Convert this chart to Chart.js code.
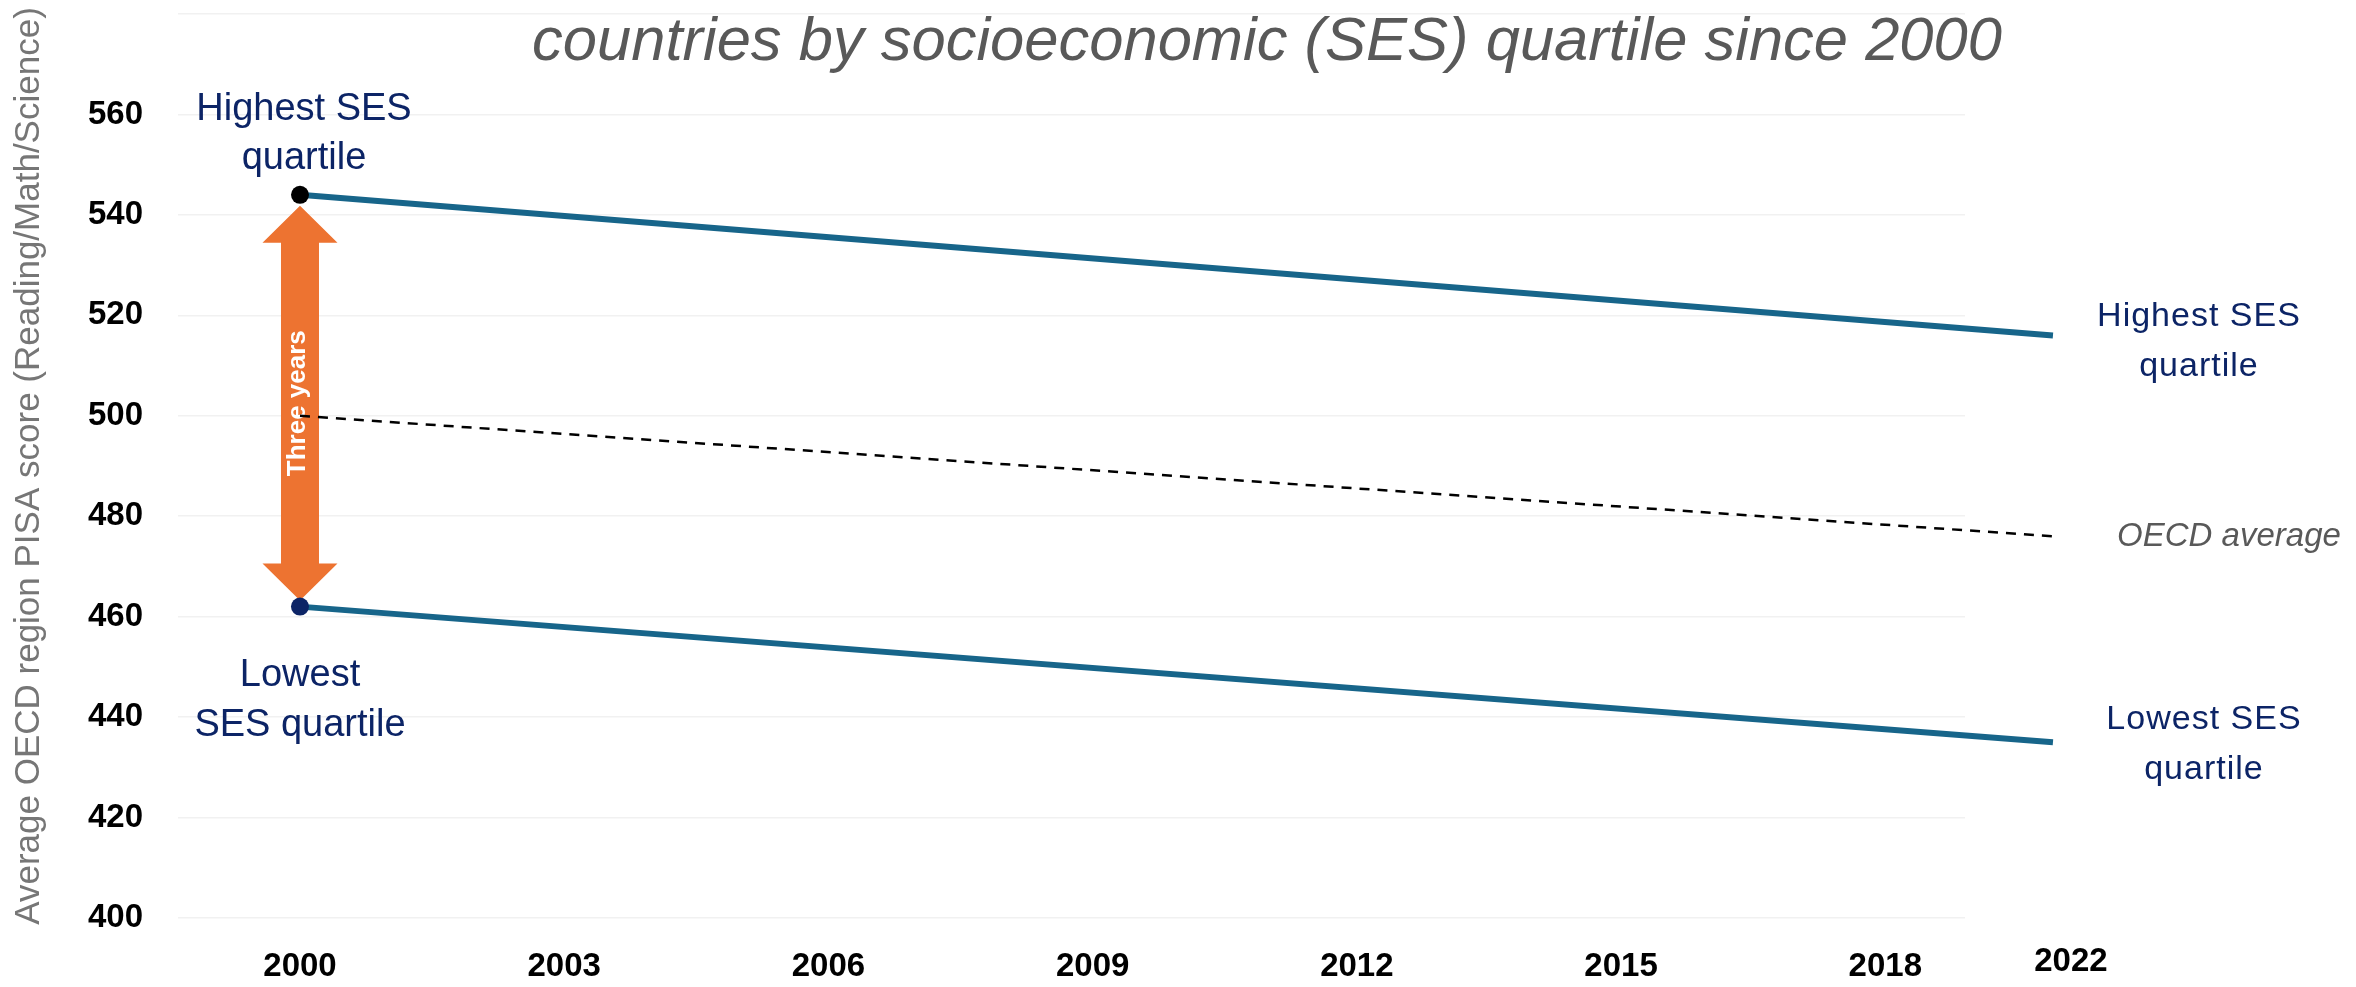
<!DOCTYPE html>
<html>
<head>
<meta charset="utf-8">
<script src="https://cdn.jsdelivr.net/npm/chart.js@4.4.1/dist/chart.umd.min.js"></script>
<style>
  html, body { margin: 0; padding: 0; background: #fff; }
  #wrap { width: 2356px; height: 987px; position: relative; }
</style>
</head>
<body>
<div id="wrap"><canvas id="pisaChart"></canvas></div>
<script>
// data
var years = [2000, 2022];
var highestSES = [544, 516];
var lowestSES = [462, 435];
var oecdAverage = [500, 476];
var tickYears = [2000, 2003, 2006, 2009, 2012, 2015, 2018];
var lastYearLabel = '2022';
var yTickLabels = [400, 420, 440, 460, 480, 500, 520, 540, 560];

var titleText = 'countries by socioeconomic (SES) quartile since 2000';
var yTitle = 'Average OECD region PISA score (Reading/Math/Science)';

var NAVY = '#0c2466';
var LINE = '#17658a';
var ORANGE = '#ed7331';
var GREY = '#595959';
var FONT = '"Liberation Sans", Arial, sans-serif';

Chart.defaults.font.family = FONT;

function pts(vals) {
    return years.map(function (y, i) { return { x: y, y: vals[i] }; });
}

function textLines(ctx, lines, x, y, gap) {
    lines.forEach(function (t, i) { ctx.fillText(t, x, y + i * gap); });
}

var decorations = {
    id: 'decorations',
    beforeDatasetsDraw: function (chart) {
        var ctx = chart.ctx;
        var xs = chart.scales.xLine, ys = chart.scales.y;
        var cx = xs.getPixelForValue(years[0]);
        var top = ys.getPixelForValue(highestSES[0]) + 11;
        var bot = ys.getPixelForValue(lowestSES[0]) - 6;
        var head = 37, hw = 37.5, sw = 19;
        ctx.save();
        ctx.fillStyle = ORANGE;
        ctx.beginPath();
        ctx.moveTo(cx, top);
        ctx.lineTo(cx + hw, top + head);
        ctx.lineTo(cx + sw, top + head);
        ctx.lineTo(cx + sw, bot - head);
        ctx.lineTo(cx + hw, bot - head);
        ctx.lineTo(cx, bot);
        ctx.lineTo(cx - hw, bot - head);
        ctx.lineTo(cx - sw, bot - head);
        ctx.lineTo(cx - sw, top + head);
        ctx.lineTo(cx - hw, top + head);
        ctx.closePath();
        ctx.fill();
        ctx.translate(cx - 2, (top + bot) / 2);
        ctx.rotate(-Math.PI / 2);
        ctx.fillStyle = '#fff';
        ctx.font = 'bold 26px ' + FONT;
        ctx.textAlign = 'center';
        ctx.textBaseline = 'middle';
        ctx.fillText('Three years', 0, 0);
        ctx.restore();
    },
    afterDatasetsDraw: function (chart) {
        var ctx = chart.ctx;
        var xs = chart.scales.xLine, ys = chart.scales.y, xt = chart.scales.x;
        var x0 = xs.getPixelForValue(years[0]);
        var x1 = xs.getPixelForValue(years[1]);
        ctx.save();
        ctx.textAlign = 'center';
        ctx.textBaseline = 'alphabetic';

        // title
        ctx.fillStyle = GREY;
        ctx.font = 'italic 61.5px ' + FONT;
        ctx.fillText(titleText, 1267, 60);

        // left labels
        ctx.fillStyle = NAVY;
        ctx.font = '38px ' + FONT;
        var yh0 = ys.getPixelForValue(highestSES[0]);
        var yl0 = ys.getPixelForValue(lowestSES[0]);
        textLines(ctx, ['Highest SES', 'quartile'], x0 + 4, yh0 - 75, 49);
        textLines(ctx, ['Lowest', 'SES quartile'], x0, yl0 + 79, 50);

        // right labels
        ctx.font = '34px ' + FONT;
        ctx.letterSpacing = '1px';
        textLines(ctx, ['Highest SES', 'quartile'], x1 + 146, ys.getPixelForValue(highestSES[1]) - 9, 50);
        textLines(ctx, ['Lowest SES', 'quartile'], x1 + 151, ys.getPixelForValue(lowestSES[1]) - 13, 50);
        ctx.letterSpacing = '0px';
        ctx.fillStyle = GREY;
        ctx.font = 'italic 33px ' + FONT;
        ctx.fillText('OECD average', x1 + 176, ys.getPixelForValue(oecdAverage[1]) + 10);

        // last year label sits at the end of the lines
        ctx.fillStyle = '#000';
        ctx.font = 'bold 33px ' + FONT;
        ctx.textBaseline = 'middle';
        ctx.fillText(lastYearLabel, x1 + 18, xt.top + 44);
        ctx.restore();
    }
};

new Chart(document.getElementById('pisaChart').getContext('2d'), {
    type: 'line',
    data: {
        datasets: [
            {
                label: 'Highest SES quartile',
                data: pts(highestSES),
                xAxisID: 'xLine',
                borderColor: LINE,
                borderWidth: 6,
                pointRadius: [9, 0],
                pointBackgroundColor: '#000',
                pointBorderWidth: 0,
                clip: false
            },
            {
                label: 'Lowest SES quartile',
                data: pts(lowestSES),
                xAxisID: 'xLine',
                borderColor: LINE,
                borderWidth: 6,
                pointRadius: [9, 0],
                pointBackgroundColor: NAVY,
                pointBorderWidth: 0,
                clip: false
            },
            {
                label: 'OECD average',
                data: pts(oecdAverage),
                xAxisID: 'xLine',
                borderColor: '#000',
                borderWidth: 2.5,
                borderDash: [10, 8],
                pointRadius: 0,
                clip: false
            }
        ]
    },
    options: {
        responsive: true,
        maintainAspectRatio: false,
        animation: false,
        layout: { padding: { top: 14, right: 391, left: 0, bottom: 0 } },
        plugins: { legend: { display: false }, tooltip: { enabled: false } },
        scales: {
            x: {
                type: 'linear',
                position: 'bottom',
                min: 1998.615,
                max: 2018.905,
                afterBuildTicks: function (s) { s.ticks = tickYears.map(function (v) { return { value: v }; }); },
                afterFit: function (s) { s.height = 69; s.paddingLeft = 0; s.paddingRight = 0; },
                grid: { display: false, drawTicks: false },
                border: { display: false },
                ticks: {
                    padding: 29,
                    color: '#000',
                    font: { size: 33, weight: 'bold' },
                    callback: function (v) { return String(v); }
                }
            },
            xLine: {
                type: 'linear',
                display: false,
                min: 1998.469,
                max: 2020.896
            },
            y: {
                min: 400,
                max: 580,
                afterBuildTicks: function (s) {
                    var t = [];
                    for (var v = 400; v <= 580; v += 20) t.push({ value: v });
                    s.ticks = t;
                },
                afterFit: function (s) { s.width = 178; s.paddingTop = 0; s.paddingBottom = 0; },
                grid: { color: '#f1f1f1', lineWidth: 1.5, drawTicks: false },
                border: { display: false },
                ticks: {
                    padding: 35,
                    color: '#000',
                    font: { size: 33, weight: 'bold' },
                    callback: function (v) { return yTickLabels.indexOf(v) >= 0 ? String(v) : ''; }
                },
                title: {
                    display: true,
                    text: yTitle,
                    color: '#767676',
                    font: { size: 35 },
                    padding: { top: 8, bottom: 0 }
                }
            }
        }
    },
    plugins: [decorations]
});
</script>
</body>
</html>
